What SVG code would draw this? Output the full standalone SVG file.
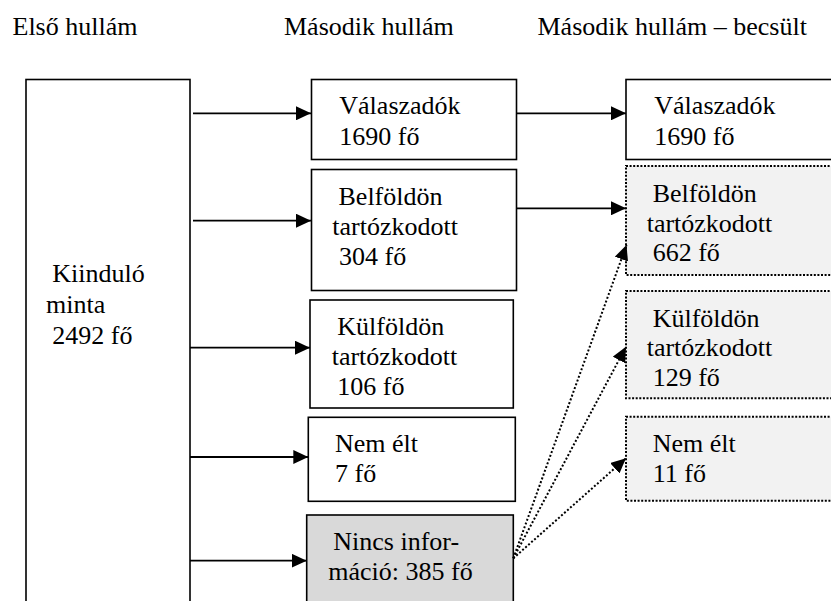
<svg xmlns="http://www.w3.org/2000/svg" width="831" height="601" viewBox="0 0 831 601">
  <style>
    text { font-family: "Liberation Serif", "Times New Roman", serif; font-size: 26px; fill: #000; }
    .box { fill: #fff; stroke: #000; stroke-width: 1.6; }
    .gray { fill: #d9d9d9; stroke: #000; stroke-width: 1.6; }
    .est { fill: #f2f2f2; stroke: #000; stroke-width: 2; stroke-dasharray: 2 1.6; }
    .arrow { stroke: #000; stroke-width: 1.8; fill: none; marker-end: url(#ah); }
    .dot { stroke: #000; stroke-width: 2; fill: none; stroke-dasharray: 2 2; marker-end: url(#ah); }
  </style>
  <defs>
    <marker id="ah" markerUnits="userSpaceOnUse" markerWidth="16" markerHeight="14" refX="15" refY="7" orient="auto">
      <path d="M0,0 L15,7 L0,14 Z" fill="#000" stroke="none"/>
    </marker>
  </defs>
  <rect width="831" height="601" fill="#fff"/>

  <g id="headers">
    <text x="12.5" y="35">Első hullám</text>
    <text x="284" y="35">Második hullám</text>
    <text x="537.5" y="35">Második hullám – becsült</text>
  </g>

  <g id="kiindulo">
    <rect class="box" x="26" y="79.5" width="164" height="540"/>
    <text><tspan x="52.3" y="282.3">Kiinduló</tspan><tspan x="46" y="313">minta</tspan><tspan x="52.3" y="343.5">2492 fő</tspan></text>
  </g>

  <g id="valaszadok">
    <rect class="box" x="311.5" y="79.5" width="205" height="80"/>
    <text><tspan x="339.3" y="114.3">Válaszadók</tspan><tspan x="339.3" y="145">1690 fő</tspan></text>
  </g>

  <g id="belfoldon">
    <rect class="box" x="311.5" y="169.5" width="205" height="121"/>
    <text><tspan x="338.5" y="205">Belföldön</tspan><tspan x="332.3" y="235">tartózkodott</tspan><tspan x="339" y="265">304 fő</tspan></text>
  </g>

  <g id="kulfoldon">
    <rect class="box" x="310" y="300" width="203.3" height="108"/>
    <text><tspan x="337.3" y="335">Külföldön</tspan><tspan x="331.7" y="365">tartózkodott</tspan><tspan x="337.3" y="395">106 fő</tspan></text>
  </g>

  <g id="nemelt">
    <rect class="box" x="308.3" y="417.3" width="207" height="84"/>
    <text><tspan x="335" y="451.7">Nem élt</tspan><tspan x="335" y="481.7">7 fő</tspan></text>
  </g>

  <g id="nincs">
    <rect class="gray" x="306.7" y="515" width="206.6" height="100"/>
    <text><tspan x="333.3" y="550">Nincs infor-</tspan><tspan x="328.3" y="580">máció: 385 fő</tspan></text>
  </g>

  <g id="valaszadok-est">
    <rect class="box" x="626" y="79.5" width="215" height="80"/>
    <text><tspan x="654.3" y="114.3">Válaszadók</tspan><tspan x="654.3" y="145">1690 fő</tspan></text>
  </g>

  <g id="belfoldon-est">
    <rect class="est" x="626" y="166" width="215" height="109"/>
    <text><tspan x="652.7" y="201.7">Belföldön</tspan><tspan x="646.7" y="231.5">tartózkodott</tspan><tspan x="652.7" y="261">662 fő</tspan></text>
  </g>

  <g id="kulfoldon-est">
    <rect class="est" x="626" y="291" width="215" height="107.3"/>
    <text><tspan x="652.7" y="326.7">Külföldön</tspan><tspan x="646.7" y="356.3">tartózkodott</tspan><tspan x="652.7" y="386">129 fő</tspan></text>
  </g>

  <g id="nemelt-est">
    <rect class="est" x="626" y="416.7" width="215" height="84"/>
    <text><tspan x="652.7" y="451.7">Nem élt</tspan><tspan x="652.7" y="481.7">11 fő</tspan></text>
  </g>

  <g id="connectors">
    <line class="arrow" x1="193" y1="113.3" x2="311" y2="113.3"/>
    <line class="arrow" x1="193" y1="220.7" x2="311" y2="220.7"/>
    <line class="arrow" x1="190" y1="347.7" x2="310" y2="347.7"/>
    <line class="arrow" x1="190" y1="457" x2="308.3" y2="457"/>
    <line class="arrow" x1="190" y1="560.7" x2="306.7" y2="560.7"/>
    <line class="arrow" x1="517" y1="113.3" x2="626" y2="113.3"/>
    <line class="arrow" x1="517" y1="208.3" x2="626" y2="208.3"/>
    <line class="dot" x1="513.3" y1="558.3" x2="626.5" y2="245"/>
    <line class="dot" x1="513.3" y1="558.3" x2="626" y2="346.7"/>
    <line class="dot" x1="513.3" y1="558.3" x2="626" y2="458.3"/>
  </g>
</svg>
